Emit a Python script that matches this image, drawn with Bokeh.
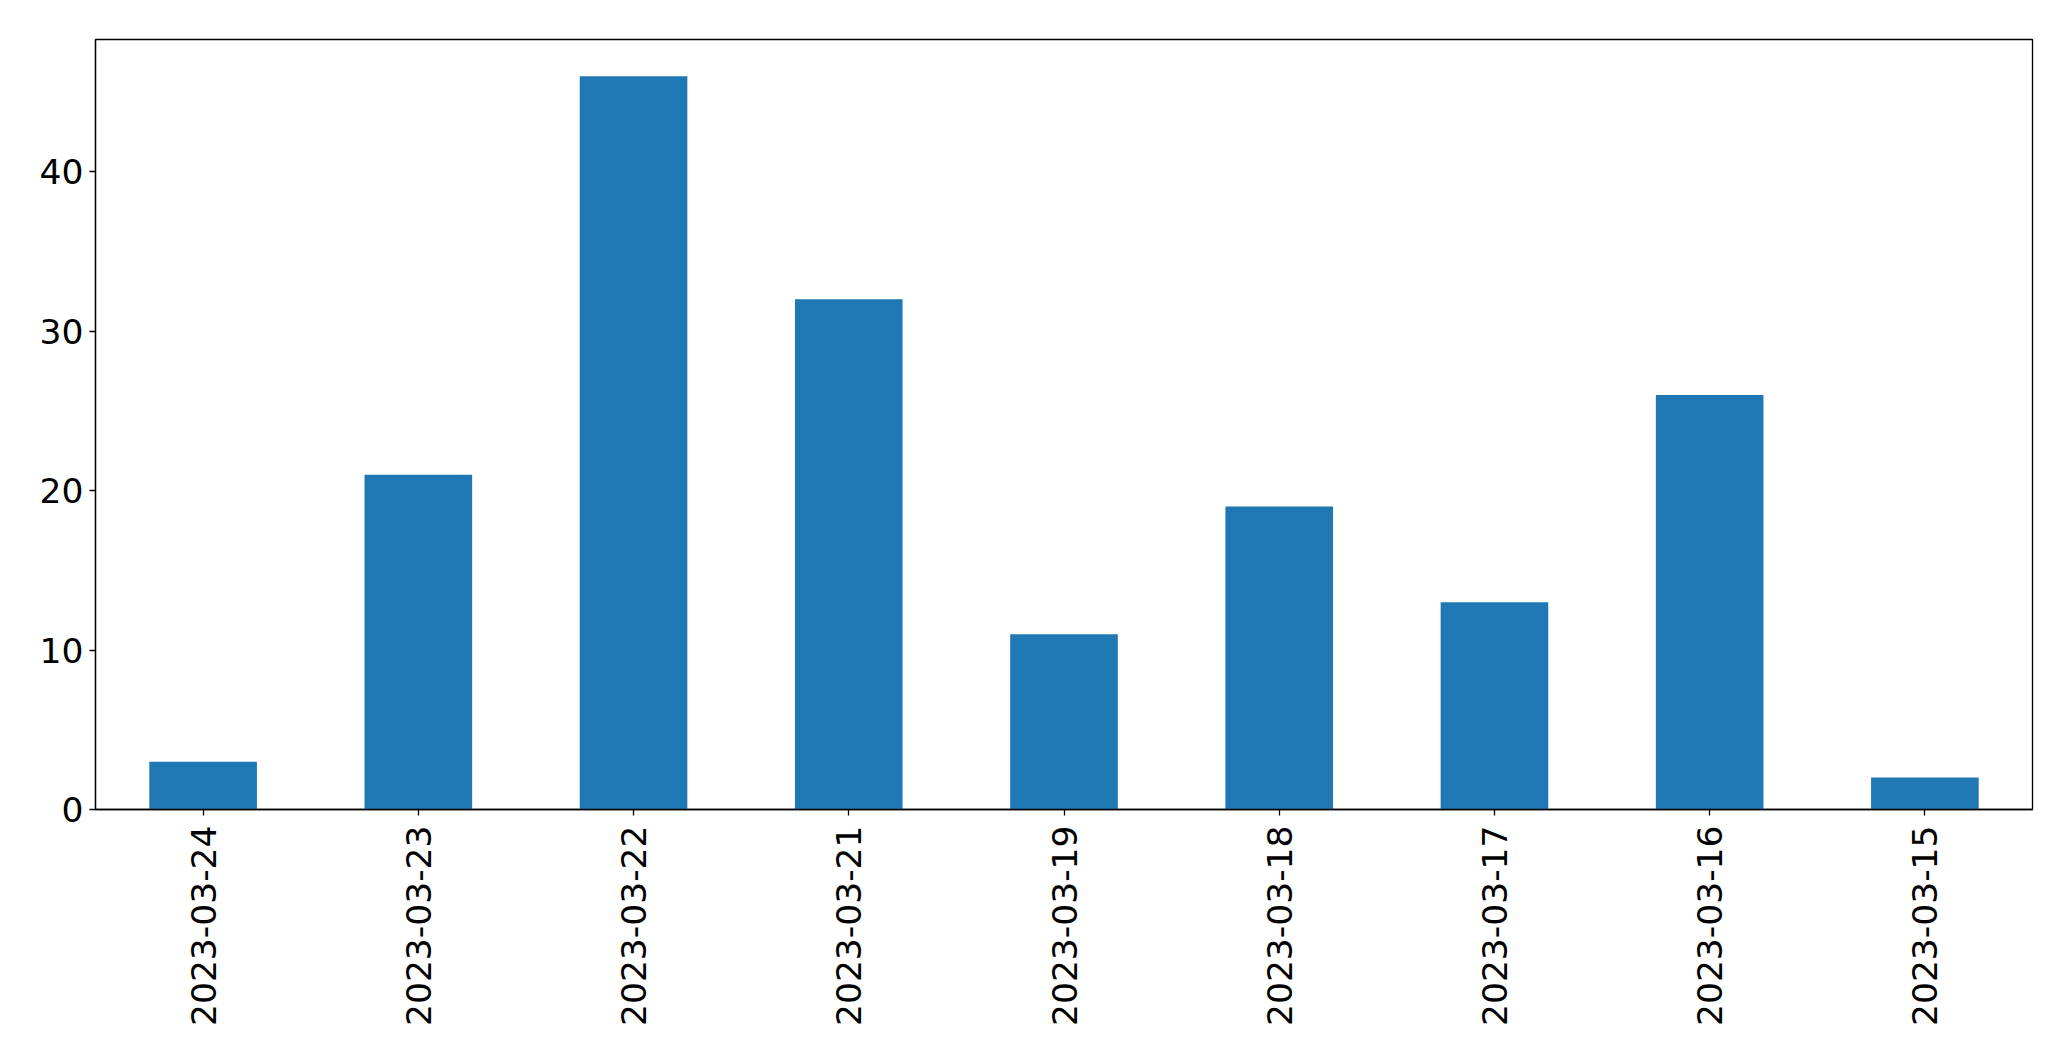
from bokeh.plotting import figure
from bokeh.models import Range1d, FixedTicker
from bokeh.embed import file_html
from bokeh.resources import INLINE
import math

dates = ["2023-03-24", "2023-03-23", "2023-03-22", "2023-03-21", "2023-03-19",
         "2023-03-18", "2023-03-17", "2023-03-16", "2023-03-15"]
counts = [3, 21, 46, 32, 11, 19, 13, 26, 2]
y_ticks = [0, 10, 20, 30, 40]

p = figure(x_range=dates, width=2055, height=1045, output_backend="svg",
           toolbar_location=None, min_border_left=95, min_border_top=39,
           min_border_right=23, min_border_bottom=236)
p.y_range = Range1d(0, max(counts) * 1.05)
p.x_range.range_padding = 0

p.vbar(x=dates, top=counts, width=0.5, color="#1f77b4", line_color=None)

p.xgrid.visible = False
p.ygrid.visible = False
p.outline_line_color = "black"
p.outline_line_width = 1.3
p.background_fill_color = "white"
p.border_fill_color = "white"

for ax in (p.xaxis[0], p.yaxis[0]):
    ax.axis_line_color = "black"
    ax.axis_line_width = 1.3
    ax.major_tick_line_color = "black"
    ax.major_tick_line_width = 1.3
    ax.major_tick_out = 6
    ax.major_tick_in = 0
    ax.minor_tick_line_color = None
    ax.major_label_text_font = "DejaVu Sans"
    ax.major_label_text_font_size = "34.5px"
    ax.major_label_text_color = "black"

p.yaxis[0].ticker = FixedTicker(ticks=y_ticks)
p.yaxis[0].major_label_standoff = 6
p.xaxis[0].major_label_orientation = math.pi / 2
p.xaxis[0].major_label_standoff = 10

open("out.html", "w").write(file_html(p, INLINE))
